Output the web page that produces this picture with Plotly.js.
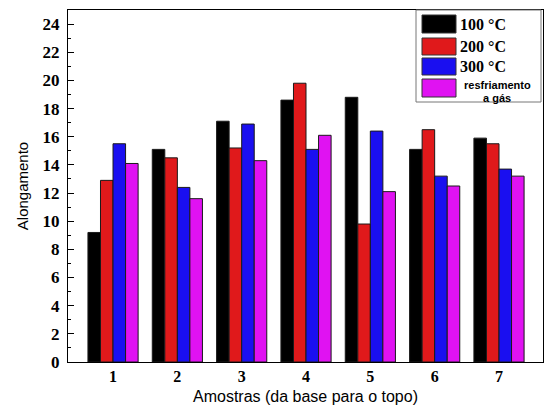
<!DOCTYPE html>
<html>
<head>
<meta charset="utf-8">
<script src="https://cdn.plot.ly/plotly-3.0.1.min.js"></script>
<style>html,body{margin:0;padding:0;background:#fff;}#chart{width:545px;height:412px;}</style>
</head>
<body>
<div id="chart"></div>
<script>
// ---- data ----
const categories = [1, 2, 3, 4, 5, 6, 7];
const tickLabels = ['1', '2', '3', '4', '5', '6', '7'];
const seriesNames = ['100 °C', '200 °C', '300 °C', 'resfriamento a gás'];
const values100 = [9.2, 15.1, 17.1, 18.6, 18.8, 15.1, 15.9];
const values200 = [12.9, 14.5, 15.2, 19.8, 9.8, 16.5, 15.5];
const values300 = [15.5, 12.4, 16.9, 15.1, 16.4, 13.2, 13.7];
const valuesGas = [14.1, 11.6, 14.3, 16.1, 12.1, 12.5, 13.2];
const yTickVals = [0, 2, 4, 6, 8, 10, 12, 14, 16, 18, 20, 22, 24];

// ---- styling ----
const colors = ['#000000', '#e0191b', '#1a0ff0', '#e012f2'];
const allValues = [values100, values200, values300, valuesGas];

const traces = allValues.map((vals, i) => ({
  type: 'bar',
  x: categories,
  y: vals,
  name: seriesNames[i],
  marker: { color: colors[i], line: { color: '#1a1a1a', width: 1 } },
  showlegend: false,
  hoverinfo: 'x+y+name'
}));

// plot area in pixels: left 68, right 543, top 10, bottom 362
const L = 68, R = 543, T = 10, B = 362;
const px = p => (p - L) / (R - L);
const py = p => (B - p) / (B - T);

const shapes = [];
const annotations = [];
// legend box
shapes.push({ type: 'rect', xref: 'paper', yref: 'paper',
  x0: px(416), x1: px(541), y0: py(102), y1: py(10),
  line: { color: '#777', width: 1 }, fillcolor: 'rgba(255,255,255,1)', layer: 'above' });
const rows = [[15, 33], [38, 55], [58, 75], [79, 97]];
rows.forEach((r, i) => {
  shapes.push({ type: 'rect', xref: 'paper', yref: 'paper',
    x0: px(422), x1: px(456), y0: py(r[1]), y1: py(r[0]),
    line: { color: '#333', width: 1 }, fillcolor: colors[i], layer: 'above' });
});
const serif = 'Liberation Serif, Times New Roman, serif';
const sans = 'Liberation Sans, Arial, sans-serif';
[0, 1, 2].forEach(i => {
  annotations.push({ xref: 'paper', yref: 'paper', x: px(458), y: py((rows[i][0] + rows[i][1]) / 2),
    xanchor: 'left', yanchor: 'middle', showarrow: false, text: '<b>' + seriesNames[i] + '</b>',
    font: { family: serif, size: 16, color: '#000' } });
});
annotations.push({ xref: 'paper', yref: 'paper', x: px(497), y: py(85),
  xanchor: 'center', yanchor: 'middle', showarrow: false, text: '<b>resfriamento</b>',
  font: { family: sans, size: 11, color: '#000' } });
annotations.push({ xref: 'paper', yref: 'paper', x: px(497), y: py(98),
  xanchor: 'center', yanchor: 'middle', showarrow: false, text: '<b>a gás</b>',
  font: { family: sans, size: 11, color: '#000' } });

const layout = {
  width: 545, height: 412,
  margin: { l: L, r: 545 - R, t: T, b: 412 - B, pad: 0 },
  paper_bgcolor: '#fff', plot_bgcolor: '#fff',
  barmode: 'group', bargap: 0.22, bargroupgap: 0,
  showlegend: false,
  xaxis: {
    range: [0.3, 7.684], tickvals: categories, ticktext: tickLabels,
    showgrid: false, zeroline: false, ticks: '',
    showline: true, linecolor: '#000', linewidth: 1, mirror: true,
    tickfont: { family: serif, size: 16, color: '#000', weight: 'bold' },
    title: { text: 'Amostras (da base para o topo)', standoff: 6,
      font: { family: sans, size: 16, color: '#000' } },
    automargin: false
  },
  yaxis: {
    range: [0, 25], tickvals: yTickVals,
    showgrid: false, zeroline: false,
    ticks: 'inside', ticklen: 6, tickcolor: '#000', tickwidth: 1,
    ticklabelstandoff: 4,
    minor: { dtick: 1, ticks: 'inside', ticklen: 3, tickcolor: '#000', tickwidth: 1 },
    showline: true, linecolor: '#000', linewidth: 1, mirror: true,
    tickfont: { family: serif, size: 17, color: '#000', weight: 'bold' },
    title: { text: 'Alongamento', standoff: 10,
      font: { family: sans, size: 15, color: '#000' } },
    automargin: false
  },
  shapes: shapes,
  annotations: annotations
};

Plotly.newPlot('chart', traces, layout, { staticPlot: true, displayModeBar: false });
</script>
</body>
</html>
